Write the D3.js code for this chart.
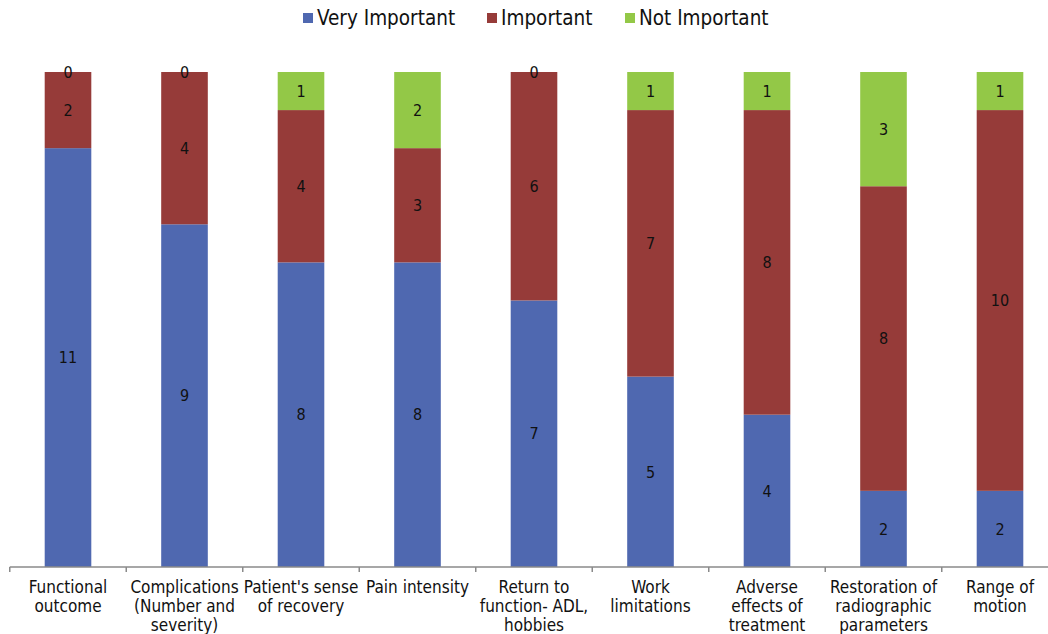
<!DOCTYPE html>
<html>
<head>
<meta charset="utf-8">
<script src="https://cdn.jsdelivr.net/npm/d3@7"></script>
<style>
  body { margin: 0; background: #fff; }
  svg { display: block; }
  text { font-family: "DejaVu Sans Condensed", "DejaVu Sans", sans-serif; fill: #111; }
</style>
</head>
<body>
<svg id="chart" width="1048" height="634"></svg>
<script>
// Outcome domains rated by respondents
const categories = [
  ["Functional", "outcome"],
  ["Complications", "(Number and", "severity)"],
  ["Patient's sense", "of recovery"],
  ["Pain intensity"],
  ["Return to", "function- ADL,", "hobbies"],
  ["Work", "limitations"],
  ["Adverse", "effects of", "treatment"],
  ["Restoration of", "radiographic", "parameters"],
  ["Range of", "motion"]
];
const seriesNames = ["Very Important", "Important", "Not Important"];
const veryImportant = [11, 9, 8, 8, 7, 5, 4, 2, 2];
const important     = [2, 4, 4, 3, 6, 7, 8, 8, 10];
const notImportant  = [0, 0, 1, 2, 0, 1, 1, 3, 1];
const colors = ["#4f68b0", "#963b39", "#93c847"];

const svg = d3.select("#chart");
const ids = categories.map((_, i) => i);
const rows = ids.map(i => ({ i, "Very Important": veryImportant[i], "Important": important[i], "Not Important": notImportant[i] }));
const stack = d3.stack().keys(seriesNames)(rows);

const x = d3.scaleBand().domain(ids).range([9.75, 1058.25]).paddingInner(0.6).paddingOuter(0.3);
const y = d3.scaleLinear().domain([0, 13]).range([567, 72]);
const color = d3.scaleOrdinal().domain(seriesNames).range(colors);

// stacked segments
const layers = svg.append("g").selectAll("g").data(stack).join("g")
  .attr("fill", d => color(d.key));
layers.selectAll("rect").data(d => d).join("rect")
  .attr("x", d => x(d.data.i))
  .attr("width", x.bandwidth())
  .attr("y", d => y(d[1]))
  .attr("height", d => y(d[0]) - y(d[1]));

// value labels centred in each segment
layers.selectAll("text").data(d => d.map(s => ({ s, key: d.key }))).join("text")
  .attr("x", d => x(d.s.data.i) + x.bandwidth() / 2)
  .attr("y", d => y((d.s[0] + d.s[1]) / 2))
  .attr("dy", "0.36em")
  .attr("text-anchor", "middle")
  .attr("font-size", 16)
  .text(d => d.s.data[d.key]);

// category axis
const step = x.step();
const x0 = x.range()[0];
const axis = svg.append("g").attr("transform", "translate(0,567)");
axis.append("line").attr("x1", x0).attr("x2", 1048).attr("stroke", "#8a8a8a").attr("stroke-width", 1.5);
axis.selectAll("line.tick").data(d3.range(categories.length + 1)).join("line")
  .attr("class", "tick")
  .attr("x1", k => x0 + k * step).attr("x2", k => x0 + k * step)
  .attr("y1", 0).attr("y2", 5)
  .attr("stroke", "#8a8a8a").attr("stroke-width", 1.5);

const labels = svg.append("g").selectAll("text").data(ids).join("text")
  .attr("text-anchor", "middle")
  .attr("font-size", 17)
  .attr("transform", i => `translate(${x(i) + x.bandwidth() / 2},593)`);
labels.selectAll("tspan").data(i => categories[i]).join("tspan")
  .attr("x", 0)
  .attr("dy", (d, j) => j === 0 ? 0 : 19)
  .text(d => d);

// legend
const legendX = [303, 487, 625];
const legend = svg.append("g").selectAll("g").data(seriesNames).join("g")
  .attr("transform", (d, k) => `translate(${legendX[k]},18)`);
legend.append("rect").attr("x", 0).attr("y", -5).attr("width", 10).attr("height", 10).attr("fill", d => color(d));
legend.append("text").attr("x", 14).attr("dy", "0.36em").attr("font-size", 20.5).text(d => d);
</script>
</body>
</html>
